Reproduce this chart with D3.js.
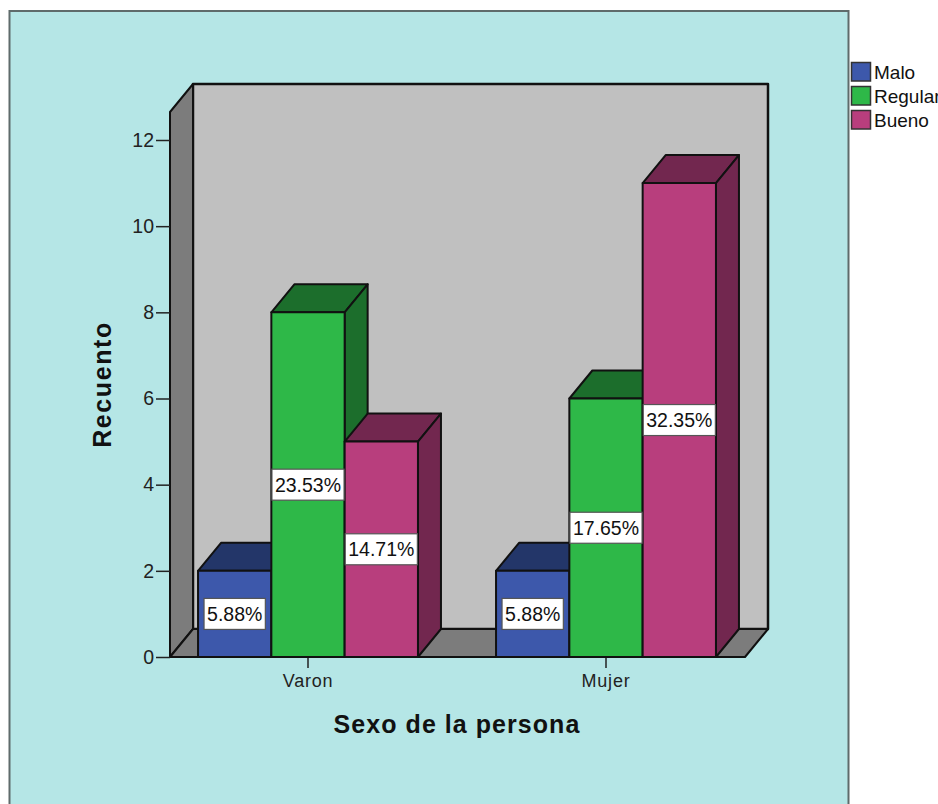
<!DOCTYPE html>
<html>
<head>
<meta charset="utf-8">
<script src="https://cdn.jsdelivr.net/npm/d3@7/dist/d3.min.js"></script>
<style>
html,body{margin:0;padding:0;background:#fff;overflow:hidden}
svg{display:block}
text{font-family:"Liberation Sans",Arial,sans-serif}
</style>
</head>
<body>
<svg id="chart" width="938" height="804"></svg>
<script>
// Chart data
const sexos = ["Varon", "Mujer"];
const niveles = ["Malo", "Regular", "Bueno"];
const recuentoVaron = [2, 8, 5];
const recuentoMujer = [2, 6, 11];
const porcentajeVaron = ["5.88%", "23.53%", "14.71%"];
const porcentajeMujer = ["5.88%", "17.65%", "32.35%"];
const ticksRecuento = [0, 2, 4, 6, 8, 10, 12];

const colorFrente = {Malo: "#3d58ab", Regular: "#2eb848", Bueno: "#b83e7d"};
const colorOscuro = {Malo: "#233669", Regular: "#1c6e2c", Bueno: "#72274f"};

const svg = d3.select("#chart");

// Outer panel, open at the bottom of the page
svg.append("rect").attr("x", 9.5).attr("y", 11).attr("width", 839).attr("height", 820)
  .attr("fill", "#b5e6e6").attr("stroke", "#5f6b6b").attr("stroke-width", 2);

// Plot frame and oblique projection offset
const plot = {left: 170, right: 745, bottom: 657, top: 112};
const dx = 23, dy = -28;

const y = d3.scaleLinear().domain([0, 12]).range([657, 140]);
const x0 = d3.scaleBand().domain(sexos).range([159, 755]).paddingInner(0.262).paddingOuter(0.131);
const x1 = d3.scaleBand().domain(niveles).range([0, x0.bandwidth()]);

const borde = "#111";
const poly = (pts, fill, sw = 2) => svg.append("polygon")
  .attr("points", pts.map(p => p.join(",")).join(" "))
  .attr("fill", fill).attr("stroke", borde).attr("stroke-width", sw).attr("stroke-linejoin", "round");

// Box walls and floor
poly([[plot.left + dx, plot.top + dy], [plot.right + dx, plot.top + dy], [plot.right + dx, plot.bottom + dy], [plot.left + dx, plot.bottom + dy]], "#c0c0c0", 2.5);
poly([[plot.left, plot.top], [plot.left + dx, plot.top + dy], [plot.left + dx, plot.bottom + dy], [plot.left, plot.bottom]], "#7c7c7c");
poly([[plot.left, plot.bottom], [plot.left + dx, plot.bottom + dy], [plot.right + dx, plot.bottom + dy], [plot.right, plot.bottom]], "#7c7c7c");

// Value axis
const ejeY = svg.append("g").attr("transform", `translate(${plot.left},0)`)
  .call(d3.axisLeft(y).tickValues(ticksRecuento).tickSize(14).tickPadding(2).tickFormat(d3.format("d")));
ejeY.select(".domain").remove();
ejeY.selectAll("line").attr("stroke", "#222").attr("stroke-width", 1.5);
ejeY.selectAll("text").attr("font-size", 19.5).attr("fill", "#222").style("font-family", "'Liberation Sans',Arial,sans-serif");

// Category axis
const ejeX = svg.append("g").attr("transform", `translate(0,${plot.bottom})`)
  .call(d3.axisBottom(x0).tickSize(11).tickPadding(6));
ejeX.select(".domain").remove();
ejeX.selectAll("line").attr("stroke", "#222").attr("stroke-width", 1.5);
ejeX.selectAll("text").attr("font-size", 18).attr("letter-spacing", 0.8).attr("fill", "#222").style("font-family", "'Liberation Sans',Arial,sans-serif");

const filas = sexos.map((s, i) => ({
  sexo: s,
  valores: i === 0 ? recuentoVaron : recuentoMujer,
  etiquetas: i === 0 ? porcentajeVaron : porcentajeMujer
}));

// Bars: side and top faces first, then the front, left to right
filas.forEach(f => {
  niveles.forEach((n, j) => {
    const a = x0(f.sexo) + x1(n), b = a + x1.bandwidth();
    const t = y(f.valores[j]), z = y(0);
    poly([[a, t], [a + dx, t + dy], [b + dx, t + dy], [b, t]], colorOscuro[n]);
    poly([[b, t], [b + dx, t + dy], [b + dx, z + dy], [b, z]], colorOscuro[n]);
    poly([[a, t], [b, t], [b, z], [a, z]], colorFrente[n]);
  });
});

// Percentage labels centred on each bar's front face
filas.forEach(f => {
  niveles.forEach((n, j) => {
    const cx = x0(f.sexo) + x1(n) + x1.bandwidth() / 2;
    const cy = y(f.valores[j] / 2);
    const g = svg.append("g");
    const txt = g.append("text").attr("x", cx).attr("y", cy + 7)
      .attr("text-anchor", "middle").attr("font-size", 19.5).attr("fill", "#111").text(f.etiquetas[j]);
    const w = txt.node().getComputedTextLength() + 6;
    g.insert("rect", "text").attr("x", cx - w / 2).attr("y", cy - 15.5).attr("width", w).attr("height", 31)
      .attr("fill", "#fff").attr("stroke", "#555").attr("stroke-width", 1.2);
  });
});

// Axis titles
svg.append("text").attr("transform", "translate(111,384.5) rotate(-90)")
  .attr("text-anchor", "middle").attr("font-size", 25).attr("font-weight", "bold").attr("fill", "#111")
  .attr("letter-spacing", 1.6).text("Recuento");
svg.append("text").attr("x", 457).attr("y", 733)
  .attr("text-anchor", "middle").attr("font-size", 25).attr("font-weight", "bold").attr("fill", "#111")
  .attr("letter-spacing", 1.05).text("Sexo de la persona");

// Legend
niveles.forEach((n, i) => {
  const ly = 62.5 + i * 24;
  svg.append("rect").attr("x", 851.5).attr("y", ly).attr("width", 19).attr("height", 18.5)
    .attr("fill", colorFrente[n]).attr("stroke", "#333").attr("stroke-width", 1.5);
  svg.append("text").attr("x", 874).attr("y", ly + 16).attr("font-size", 19).attr("fill", "#111").text(n);
});
</script>
</body>
</html>
